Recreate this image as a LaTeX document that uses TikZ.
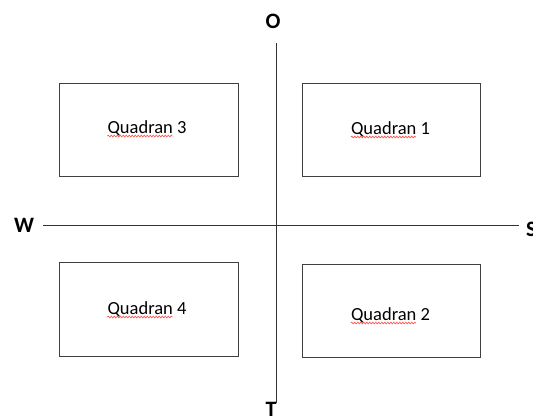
\documentclass[tikz,border=0pt]{standalone}
\usepackage{fontspec}
\setmainfont{Carlito}
\usetikzlibrary{decorations.pathmorphing}

\newlength\quadw
\newcommand\quadfont{\fontsize{18.5bp}{22bp}\selectfont}

\tikzset{
  quadbox/.style={draw=black!75, line width=1bp},
  axisline/.style={draw=black!80, line width=1bp},
  quadtext/.style={inner sep=0pt, anchor=base, font=\quadfont},
  axislabel/.style={inner sep=0pt, font=\fontsize{22bp}{26bp}\selectfont\bfseries},
  spellmark/.style={draw=red!65, line width=0.7bp,
    decorate, decoration={snake, amplitude=0.8bp, segment length=3bp}}
}

\begin{document}
\settowidth{\quadw}{\quadfont Quadran}%
\begin{tikzpicture}[x=1bp, y=-1bp]
  \useasboundingbox (0,0) rectangle (533,416);

  % the four quadrant boxes
  \draw[quadbox] (59,83) rectangle (238,176);
  \draw[quadbox] (302,83) rectangle (480,176);
  \draw[quadbox] (59,262) rectangle (238,356);
  \draw[quadbox] (302,264) rectangle (480,357);

  % box captions
  \node[quadtext] (t3) at (147,133) {Quadran 3};
  \node[quadtext] (t1) at (390.5,134) {Quadran 1};
  \node[quadtext] (t4) at (147,314) {Quadran 4};
  \node[quadtext] (t2) at (390.5,320) {Quadran 2};

  % wavy underline beneath the word "Quadran"
  \foreach \cap in {t1,t2,t3,t4}{
    \path ([yshift=-3bp]\cap.base west) coordinate (\cap-a)
          ++(\quadw,0) coordinate (\cap-b);
    \draw[spellmark] (\cap-a) -- (\cap-b);
  }

  % axis end labels
  \node[axislabel, anchor=base] (w) at (24,232) {W};
  \node[axislabel, anchor=base west] (s) at (526,236) {S};
  \node[axislabel, anchor=base] (o) at (273,28) {O};
  \node[axislabel, anchor=base] (t) at (271,416) {T};

  % axes
  \coordinate (wend) at (43,225);
  \coordinate (send) at (519,225);
  \coordinate (oend) at (276,43);
  \coordinate (tend) at (276,403);
  \draw[axisline] (wend) -- (send);
  \draw[axisline] (oend) -- (tend);
\end{tikzpicture}
\end{document}
